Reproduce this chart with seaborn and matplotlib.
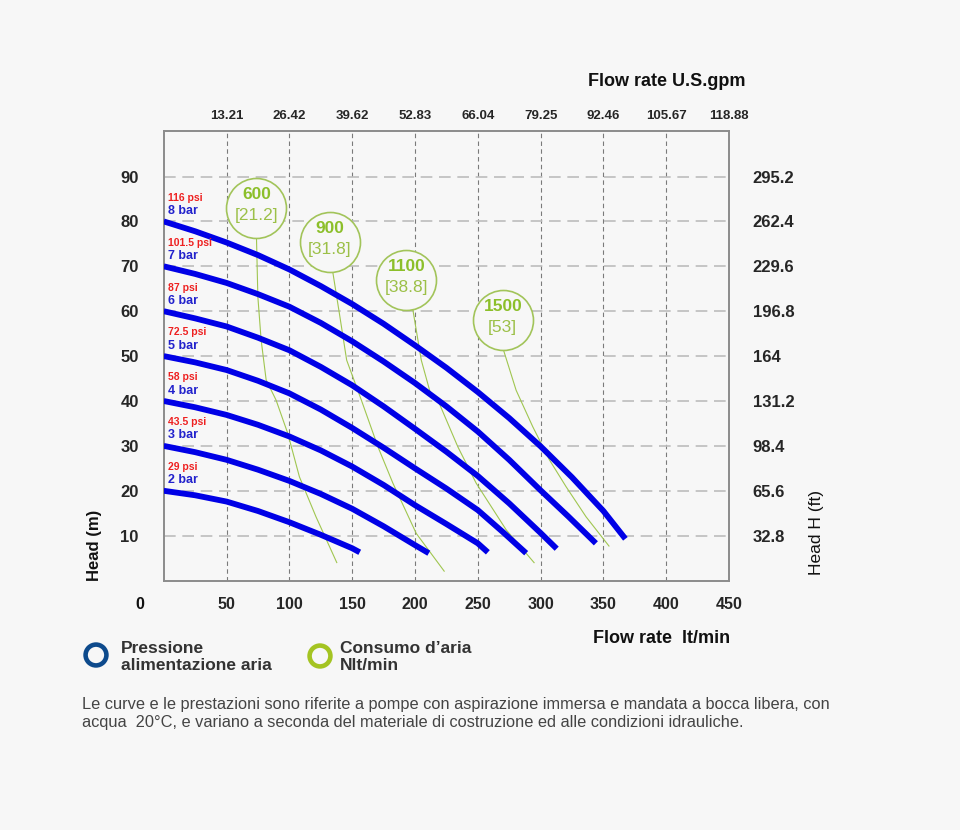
import matplotlib
matplotlib.use("Agg")
import matplotlib.pyplot as plt
import pandas as pd
import seaborn as sns

# Pressure curves (flow rate lt/min -> head m)
bar_names = ['8 bar', '7 bar', '6 bar', '5 bar', '4 bar', '3 bar', '2 bar']
psi_names = ['116 psi', '101.5 psi', '87 psi', '72.5 psi', '58 psi', '43.5 psi', '29 psi']
flow_8 = [0, 25, 50, 75, 100, 125, 150, 175, 200, 225, 250, 275, 300, 325, 350, 367.5]
head_8 = [80, 77.8, 75.3, 72.5, 69.3, 65.6, 61.6, 57.2, 52.4, 47.4, 42.0, 36.2, 29.9, 23.0, 15.5, 9.3]
flow_7 = [0, 25, 50, 75, 100, 125, 150, 175, 200, 225, 250, 275, 300, 322, 344]
head_7 = [70, 68.3, 66.3, 63.8, 61.0, 57.4, 53.3, 48.8, 44.0, 38.8, 33.2, 26.9, 20.1, 14.3, 8.3]
flow_6 = [0, 25, 50, 75, 100, 125, 150, 175, 200, 225, 250, 275, 300, 312.8]
head_6 = [60, 58.4, 56.6, 54.1, 51.3, 47.6, 43.5, 38.8, 33.8, 28.7, 23.3, 17.2, 10.6, 7.1]
flow_5 = [0, 25, 50, 75, 100, 125, 150, 175, 200, 225, 250, 270, 288.5]
head_5 = [50, 48.6, 46.9, 44.5, 41.7, 38.1, 34.0, 29.6, 25.0, 20.5, 15.7, 10.8, 6.1]
flow_4 = [0, 25, 50, 75, 100, 125, 150, 175, 200, 225, 250, 258]
head_4 = [40, 38.6, 36.9, 34.7, 32.1, 29.0, 25.4, 21.3, 16.8, 12.6, 8.3, 6.3]
flow_3 = [0, 25, 50, 75, 100, 125, 150, 175, 200, 211]
head_3 = [30, 28.6, 26.9, 24.7, 22.2, 19.3, 16.0, 12.1, 7.9, 6.1]
flow_2 = [0, 25, 50, 75, 100, 125, 150, 156]
head_2 = [20, 19.0, 17.6, 15.5, 13.0, 10.2, 7.2, 6.3]

# Air consumption curves (Nlt/min [scfm])
air_names = ['600', '900', '1100', '1500']
air_scfm = ['[21.2]', '[31.8]', '[38.8]', '[53]']
air_600_x = [73.8, 74.9, 77.5, 81.5, 89.4, 98.7, 108.0, 121.2, 137.9]
air_600_y = [76.4, 63.2, 53.6, 44.7, 40.2, 32.8, 23.1, 14.2, 3.9]
air_900_x = [134.5, 139.8, 145.6, 157.3, 170.5, 182.4, 201.0, 223.5]
air_900_y = [68.8, 59.5, 49.1, 40.2, 29.8, 21.7, 10.5, 2.0]
air_1100_x = [197.9, 205.0, 213.0, 218.2, 234.1, 248.7, 272.6, 295.1]
air_1100_y = [61.0, 49.1, 41.0, 40.2, 29.8, 21.7, 11.3, 3.9]
air_1500_x = [270.4, 280.5, 293.7, 307.0, 320.3, 336.2, 354.7]
air_1500_y = [51.4, 42.4, 34.3, 26.9, 20.9, 14.2, 7.6]

# axis labels
lt_ticks = [50, 100, 150, 200, 250, 300, 350, 400, 450]
gpm_labels = ['13.21', '26.42', '39.62', '52.83', '66.04', '79.25', '92.46', '105.67', '118.88']
m_ticks = [10, 20, 30, 40, 50, 60, 70, 80, 90]
ft_labels = ['32.8', '65.6', '98.4', '131.2', '164', '196.8', '229.6', '262.4', '295.2']

sns.set_style('white')
plt.rcParams['font.family'] = ['Liberation Sans', 'DejaVu Sans']

BG = '#f7f7f7'
BLUE = '#0000e6'
GREEN = '#a0c650'

pressure = pd.concat([
    pd.DataFrame({'flow': f, 'head': h, 'curve': n})
    for f, h, n in zip([flow_8, flow_7, flow_6, flow_5, flow_4, flow_3, flow_2],
                       [head_8, head_7, head_6, head_5, head_4, head_3, head_2], bar_names)
])
air = pd.concat([
    pd.DataFrame({'flow': x, 'head': y, 'curve': n})
    for x, y, n in zip([air_600_x, air_900_x, air_1100_x, air_1500_x],
                       [air_600_y, air_900_y, air_1100_y, air_1500_y], air_names)
])

fig = plt.figure(figsize=(9.6, 8.3), dpi=100)
fig.patch.set_facecolor(BG)

# overlay in pixel coords for free text
ov = fig.add_axes([0, 0, 1, 1])
ov.set_xlim(0, 960)
ov.set_ylim(830, 0)
ov.axis('off')
ov.patch.set_alpha(0)

ax = fig.add_axes([0.1706, 0.3005, 0.5888, 0.542])
ax.set_zorder(2)
ax.set_facecolor(BG)
ax.set_xlim(0, 450)
ax.set_ylim(0, 100.2)

# grid
for v in lt_ticks[:-1]:
    ax.axvline(v, color='#7a7a7a', lw=0.8, ls=(0, (4, 3)), zorder=1)
for v in m_ticks:
    ax.axhline(v, color='#bdbdbd', lw=1.2, ls=(0, (7, 4)), zorder=1)

sns.lineplot(data=air, x='flow', y='head', units='curve', estimator=None, sort=False,
             color=GREEN, lw=0.8, ax=ax, legend=False, zorder=2)
sns.lineplot(data=pressure, x='flow', y='head', units='curve', estimator=None, sort=False,
             color=BLUE, lw=4.2, ax=ax, legend=False, zorder=3)
for line in ax.get_lines():
    line.set_solid_capstyle('butt')
    line.set_solid_joinstyle('round')

# air consumption bubbles
bubble_x = [73.8, 132.0, 193.1, 269.9]
bubble_y = [83.0, 75.5, 67.0, 58.0]
ax.scatter(bubble_x, bubble_y, s=1866, facecolors=BG, edgecolors='#a2c45a', linewidths=1.2, zorder=4)
for bx, by, n, s in zip(bubble_x, bubble_y, air_names, air_scfm):
    ax.annotate(n, (bx, by), xytext=(0, 9.5), textcoords='offset points', ha='center', va='center',
                fontsize=12.5, fontweight='bold', color='#8cbf2a', zorder=5)
    ax.annotate(s, (bx, by), xytext=(0, -5.5), textcoords='offset points', ha='center', va='center',
                fontsize=12.5, color='#9cc048', zorder=5)

# pressure labels
for h, b, p in zip([80, 70, 60, 50, 40, 30, 20], bar_names, psi_names):
    ax.annotate(p, (0, h), xytext=(3, 17), textcoords='offset points', ha='left', va='center',
                fontsize=7.5, fontweight='bold', color='#ee2020', zorder=5)
    ax.annotate(b, (0, h), xytext=(3, 7.5), textcoords='offset points', ha='left', va='center',
                fontsize=9, fontweight='bold', color='#2222cc', zorder=5)

ax.set_xticks(lt_ticks)
ax.set_xticklabels([str(t) for t in lt_ticks], fontsize=11.5, fontweight='bold')
ax.set_yticks(m_ticks)
ax.set_yticklabels([str(t) for t in m_ticks], fontsize=12, fontweight='bold')
ax.tick_params(axis='x', length=0, pad=12)
ax.tick_params(axis='y', length=0, pad=18)
ax.set_xlabel('')
ax.set_ylabel('')
for sp in ax.spines.values():
    sp.set_color('#8c8c8c')
    sp.set_linewidth(1.4)

top = ax.secondary_xaxis('top')
top.set_xticks(lt_ticks)
top.set_xticklabels(gpm_labels, fontsize=9.5, fontweight='bold')
top.tick_params(length=0, pad=6)
top.spines['top'].set_visible(False)

right = ax.secondary_yaxis('right')
right.set_yticks(m_ticks)
right.set_yticklabels(ft_labels, fontsize=12, fontweight='bold')
right.tick_params(length=0, pad=17)
right.spines['right'].set_visible(False)

# titles and axis names
ov.text(140, 604, '0', ha='center', va='center', fontsize=11.5, fontweight='bold', color='#111')
ov.text(746, 81, 'Flow rate U.S.gpm', ha='right', va='center', fontsize=13, fontweight='bold', color='#111')
ov.text(593, 638, 'Flow rate  lt/min', ha='left', va='center', fontsize=13, fontweight='bold', color='#111')
ov.text(95, 545, 'Head (m)', ha='center', va='center', rotation=90, fontsize=12, fontweight='bold', color='#111')
ov.text(817, 532, 'Head H (ft)', ha='center', va='center', rotation=90, fontsize=12.5, color='#111')

# legend
ov.scatter([96], [655], s=225, facecolors='none', edgecolors='#0d4a8c', linewidths=3.3)
ov.scatter([320], [656], s=225, facecolors='none', edgecolors='#a4c422', linewidths=3.3)
ov.text(121, 657, 'Pressione\nalimentazione aria', ha='left', va='center', fontsize=12.5,
        fontweight='bold', color='#333', linespacing=1.1)
ov.text(340, 657, 'Consumo d\u2019aria\nNlt/min', ha='left', va='center', fontsize=12.5,
        fontweight='bold', color='#333', linespacing=1.1)

ov.text(82, 713.5, 'Le curve e le prestazioni sono riferite a pompe con aspirazione immersa e mandata a bocca libera, con\n'
        'acqua  20\u00b0C, e variano a seconda del materiale di costruzione ed alle condizioni idrauliche.',
        ha='left', va='center', fontsize=11.8, color='#444', linespacing=1.28)

fig.savefig('out.png', dpi=100, facecolor=BG)
